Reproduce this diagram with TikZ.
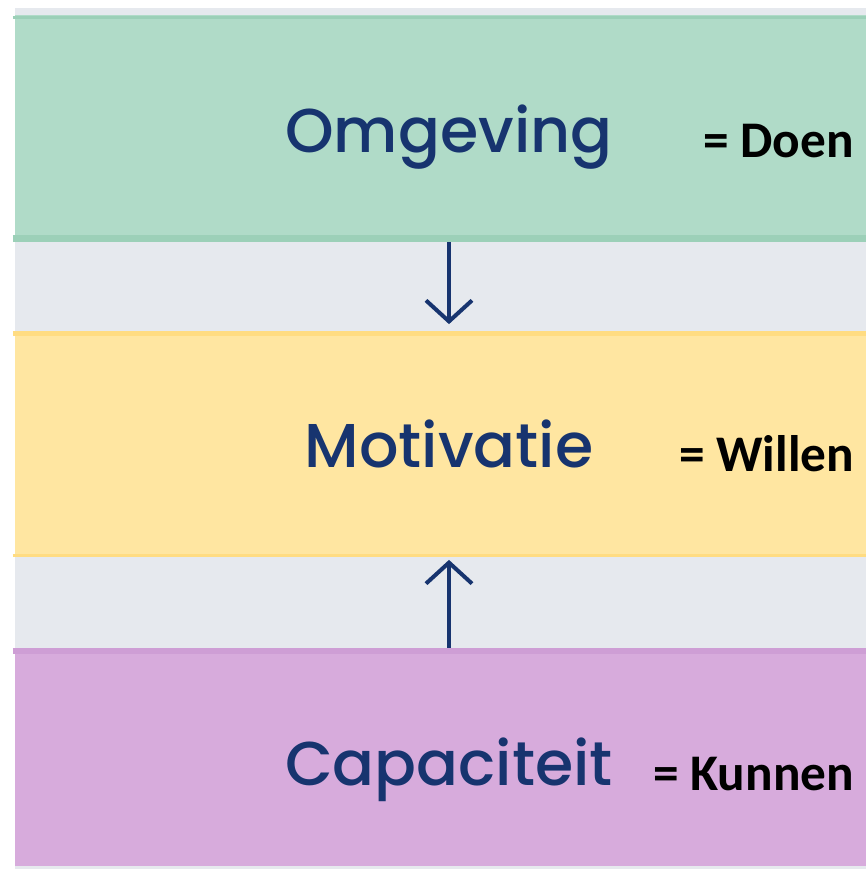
\documentclass[tikz,border=0pt]{standalone}
\usepackage{fontspec}
\usetikzlibrary{arrows.meta,positioning}
\newfontfamily\titlefont[BoldFont={Poppins Medium}]{Poppins}
\newfontfamily\glossfont{Carlito}
\definecolor{navy}{HTML}{17346F}
\definecolor{gap}{HTML}{E6E9EE}
\definecolor{sage}{HTML}{B0DBC8}
\definecolor{sageedge}{HTML}{9CD0B8}
\definecolor{butter}{HTML}{FFE6A1}
\definecolor{butteredge}{HTML}{FFDC82}
\definecolor{lilac}{HTML}{D7ABDC}
\definecolor{lilacedge}{HTML}{CE9ED5}

\begin{document}
\begin{tikzpicture} [x=0.01cm,y=-0.01cm,line width=0.04cm,
  band/.style={rectangle,inner sep=0pt,minimum width=8.51cm},
  title/.style={anchor=base,text=navy,font=\titlefont\bfseries\fontsize{17.6}{18}\selectfont},
  gloss/.style={anchor=base east,inner sep=0pt,font=\glossfont\bfseries\fontsize{14.6}{15}\selectfont},
  link/.style={draw=navy,-{Straight Barb[length=0.21cm,width=0.46cm]}}]

  \useasboundingbox (0,0) rectangle (866,869);
  \fill[gap] (15,8) rectangle (866,869);

  \node[band,fill=sage,minimum height=2.25cm] (band1) at (440.5,127.5) {};
  \node[band,fill=butter,minimum height=2.22cm] (band2) at (440.5,444) {};
  \node[band,fill=lilac,minimum height=2.16cm] (band3) at (440.5,758) {};

  % darker edges of the bands
  \draw[sageedge,line width=0.03cm] ([yshift=-0.045cm]band1.north west) -- ([yshift=-0.045cm]band1.north east);
  \draw[sageedge,line width=0.07cm] ([yshift=0.035cm]band1.south west) -- ([yshift=0.035cm]band1.south east);
  \draw[butteredge,line width=0.05cm] ([yshift=-0.025cm]band2.north west) -- ([yshift=-0.025cm]band2.north east);
  \draw[butteredge,line width=0.03cm] ([yshift=0.015cm]band2.south west) -- ([yshift=0.015cm]band2.south east);
  \draw[lilacedge,line width=0.06cm] ([yshift=-0.03cm]band3.north west) -- ([yshift=-0.03cm]band3.north east);

  \node[title] (omgeving) at (449,152) {Omgeving};
  \node[title] (motivatie) at (449,467) {Motivatie};
  \node[title] (capaciteit) at (449,785) {Capaciteit};

  \node[gloss] (doen) at (856,157) {= Doen};
  \node[gloss] (willen) at (856,471) {= Willen};
  \node[gloss] (kunnen) at (856,790) {= Kunnen};

  \coordinate (downtip) at ([yshift=-0.82cm]band1.south -| omgeving);
  \coordinate (uptip) at ([yshift=0.88cm]band3.north -| capaciteit);
  \draw[link] (band1.south -| omgeving) -- (downtip);
  \draw[link] (band3.north -| capaciteit) -- (uptip);
\end{tikzpicture}
\end{document}
